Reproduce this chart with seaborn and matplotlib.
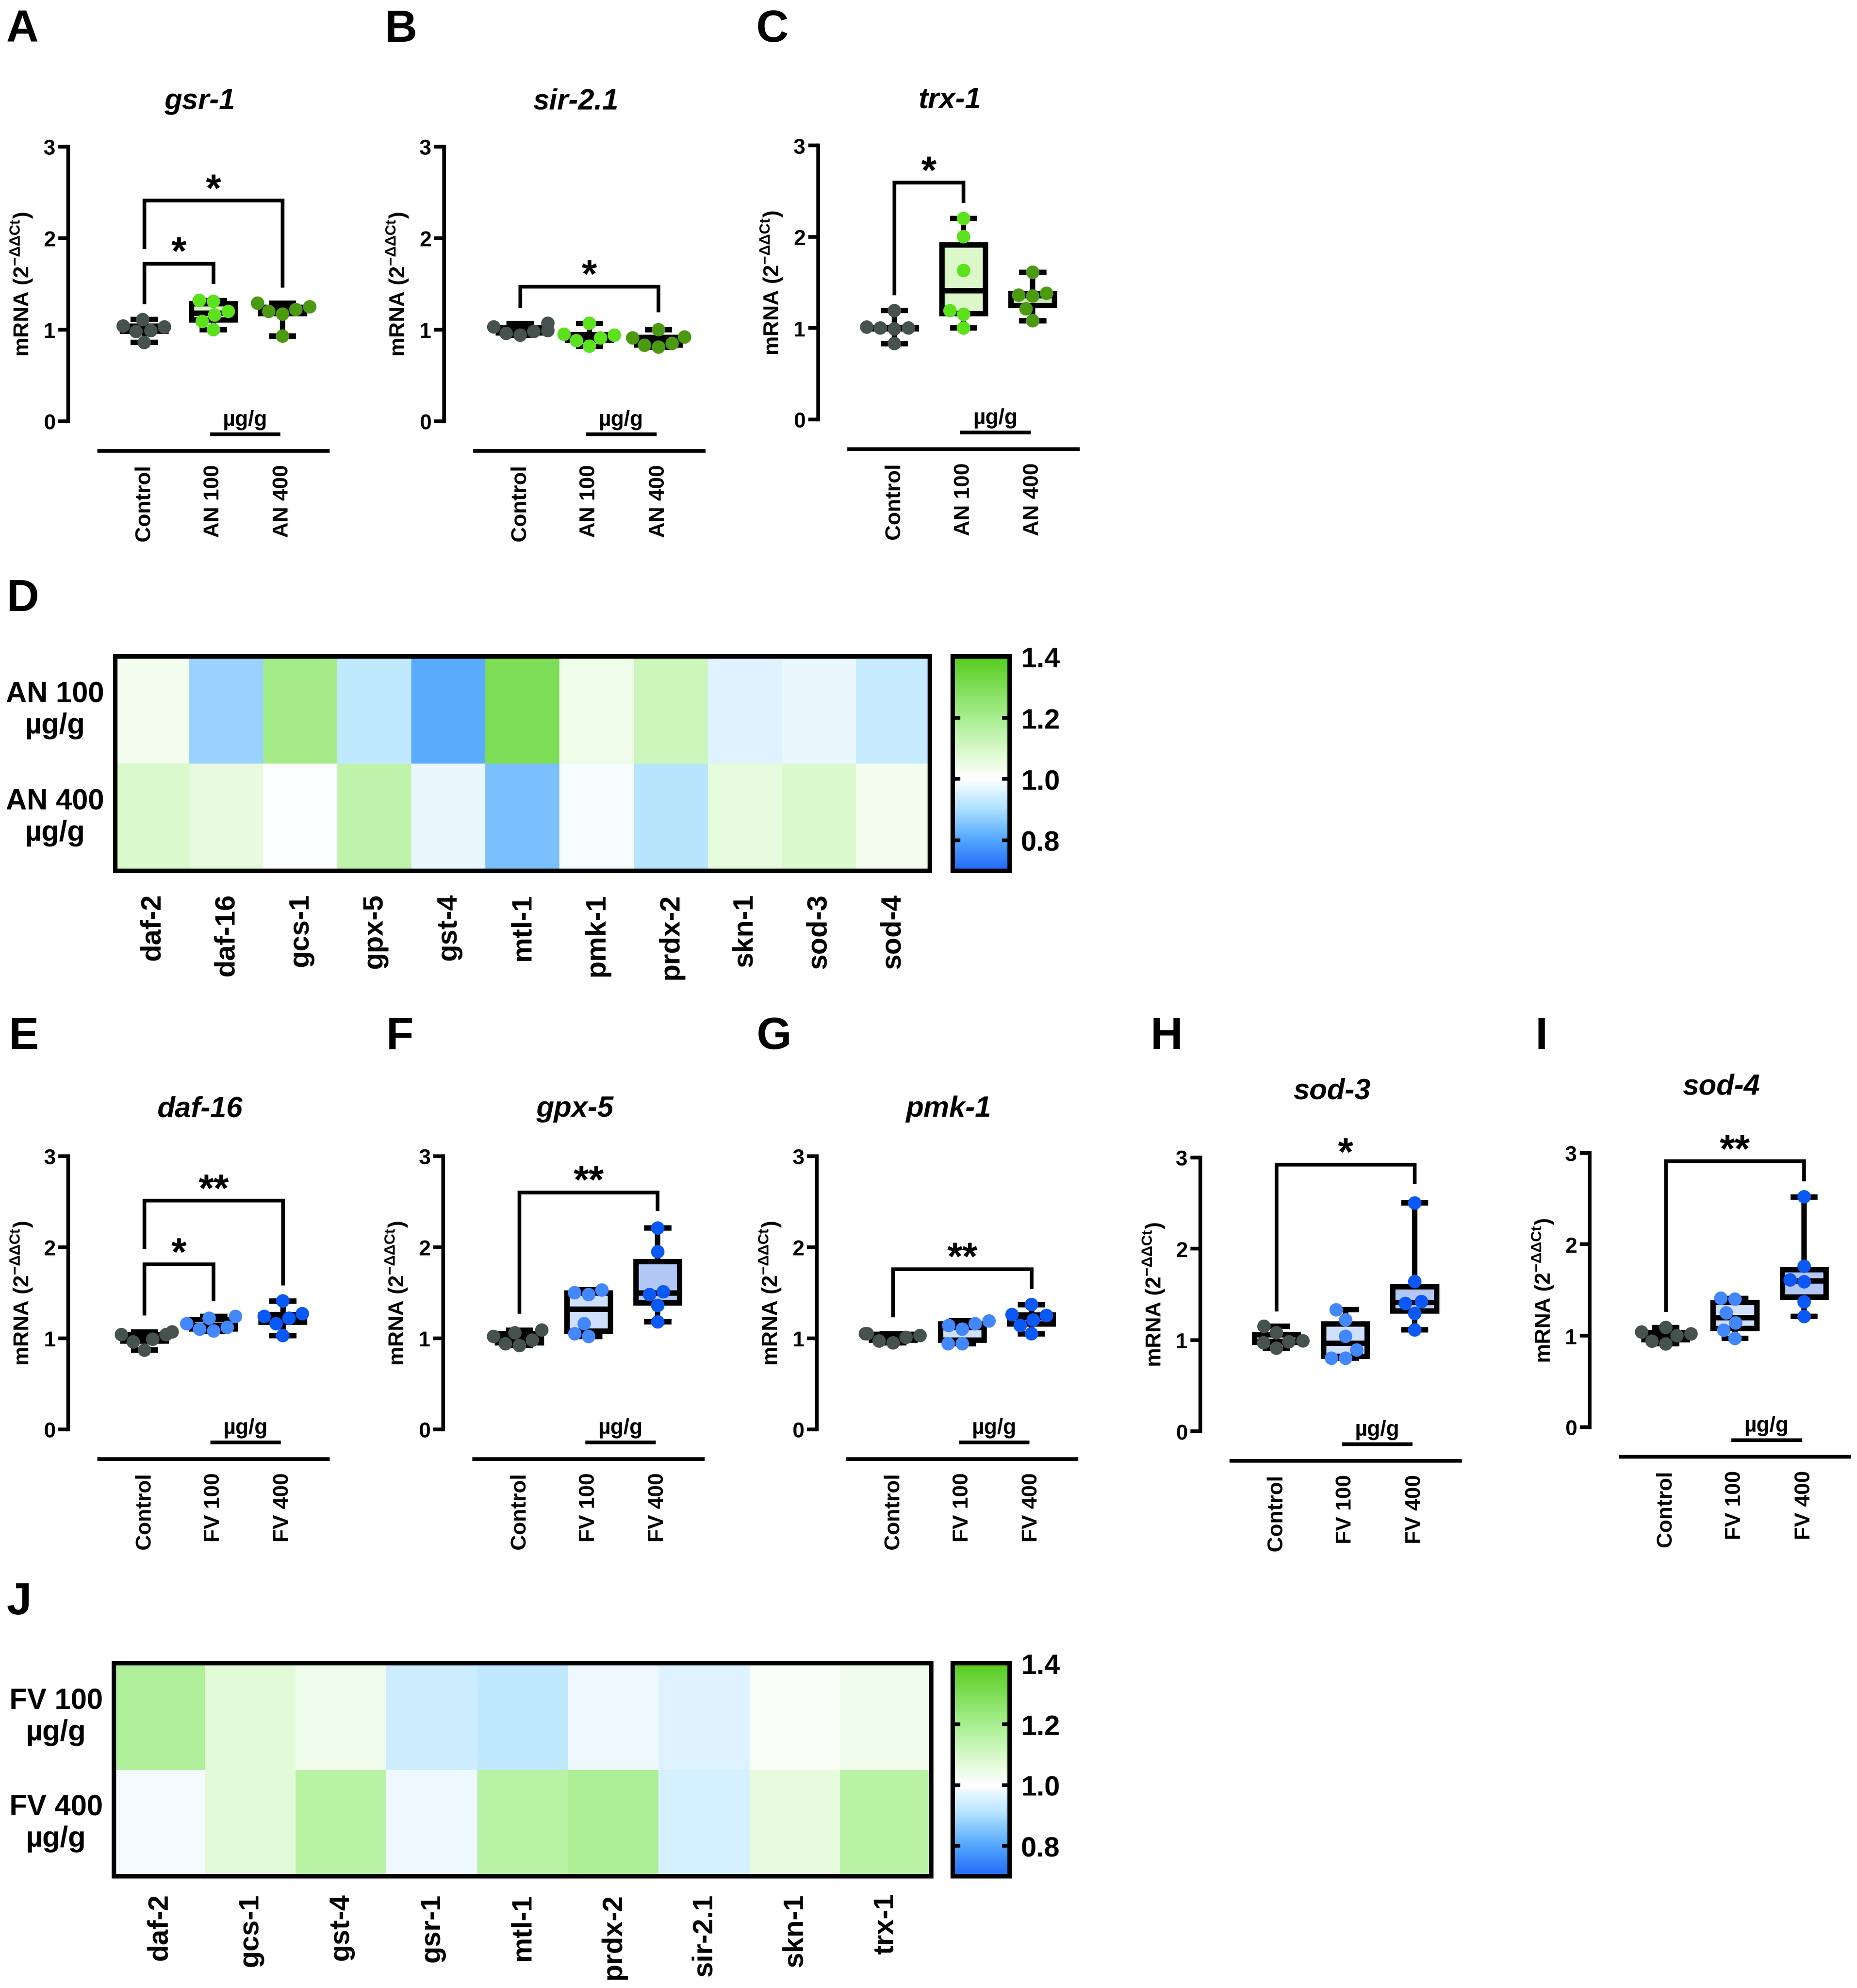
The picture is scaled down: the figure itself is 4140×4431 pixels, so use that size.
import numpy as np
import pandas as pd
import matplotlib
matplotlib.use("Agg")
import matplotlib.pyplot as plt
import matplotlib.transforms as mtransforms
from matplotlib.colors import LinearSegmentedColormap
import seaborn as sns

# ---------------- data ----------------
groups_an = ["Control", "AN 100", "AN 400"]
groups_fv = ["Control", "FV 100", "FV 400"]

# gsr-1 (A)
gsr1_ctrl = [1.04, 0.99, 0.86, 1.03, 1.11, 0.98]
gsr1_an100 = [1.00, 1.31, 1.16, 1.32, 1.20, 1.09]
gsr1_an400 = [1.25, 1.20, 1.17, 1.22, 1.29, 0.93]
# sir-2.1 (B)
sir21_ctrl = [0.96, 1.03, 0.98, 0.99, 1.07, 0.94]
sir21_an100 = [1.07, 0.94, 0.95, 0.88, 0.91, 0.82]
sir21_an400 = [1.00, 0.91, 0.92, 0.83, 0.85, 0.81]
# trx-1 (C)
trx1_ctrl = [1.01, 1.00, 1.19, 0.83, 1.00, 0.99]
trx1_an100 = [2.20, 2.00, 1.63, 1.19, 1.15, 1.00]
trx1_an400 = [1.61, 1.36, 1.38, 1.35, 1.21, 1.08]
# daf-16 (E)
daf16_ctrl = [0.99, 1.04, 0.87, 0.96, 1.07, 1.04]
daf16_fv100 = [1.22, 1.08, 1.16, 1.24, 1.10, 1.12]
daf16_fv400 = [1.41, 1.22, 1.24, 1.27, 1.16, 1.03]
# gpx-5 (F)
gpx5_ctrl = [1.02, 0.92, 0.98, 1.06, 0.94, 1.09]
gpx5_fv100 = [1.50, 1.53, 1.48, 1.16, 1.02, 1.05]
gpx5_fv400 = [2.21, 1.95, 1.48, 1.51, 1.36, 1.18]
# pmk-1 (G)
pmk1_ctrl = [0.97, 1.05, 1.01, 1.05, 0.95, 1.03]
pmk1_fv100 = [1.14, 1.10, 1.16, 1.19, 0.94, 0.94]
pmk1_fv400 = [1.37, 1.26, 1.20, 1.25, 1.14, 1.05]
# sod-3 (H)
sod3_ctrl = [0.91, 0.99, 1.08, 1.15, 0.97, 0.98]
sod3_fv100 = [0.80, 0.89, 1.04, 1.22, 1.33, 0.80]
sod3_fv400 = [2.50, 1.64, 1.40, 1.42, 1.29, 1.11]
# sod-4 (I)
sod4_ctrl = [1.02, 0.91, 1.04, 1.09, 0.94, 1.00]
sod4_fv100 = [1.41, 1.40, 1.25, 1.14, 1.06, 0.97]
sod4_fv400 = [2.52, 1.76, 1.59, 1.61, 1.37, 1.21]

# significance brackets: (group i, group j, bracket top, left leg end, right leg end, label)
gsr1_sig = [(0, 1, 1.72, 1.30, 1.52, "*"), (0, 2, 2.41, 1.90, 1.48, "*")]
sir21_sig = [(0, 2, 1.47, 1.26, 1.21, "*")]
trx1_sig = [(0, 1, 2.59, 1.38, 2.39, "*")]
daf16_sig = [(0, 1, 1.81, 1.27, 1.43, "*"), (0, 2, 2.51, 2.00, 1.60, "**")]
gpx5_sig = [(0, 2, 2.60, 1.29, 2.42, "**")]
pmk1_sig = [(0, 2, 1.76, 1.25, 1.56, "**")]
sod3_sig = [(0, 2, 2.92, 1.33, 2.73, "*")]
sod4_sig = [(0, 2, 2.91, 1.28, 2.71, "**")]

# heatmap D (AN) and J (FV)
genes_an = ["daf-2", "daf-16", "gcs-1", "gpx-5", "gst-4", "mtl-1",
            "pmk-1", "prdx-2", "skn-1", "sod-3", "sod-4"]
an100_heat = [1.03, 0.88, 1.21, 0.925, 0.81, 1.30, 1.04, 1.12, 0.96, 0.975, 0.935]
an400_heat = [1.09, 1.06, 1.00, 1.15, 0.975, 0.845, 0.99, 0.915, 1.06, 1.09, 1.03]
rows_an = ["AN 100\nµg/g", "AN 400\nµg/g"]

genes_fv = ["daf-2", "gcs-1", "gst-4", "gsr-1", "mtl-1", "prdx-2",
            "sir-2.1", "skn-1", "trx-1"]
fv100_heat = [1.18, 1.07, 1.035, 0.94, 0.925, 0.98, 0.96, 1.015, 1.035]
fv400_heat = [0.985, 1.07, 1.16, 0.98, 1.16, 1.19, 0.95, 1.06, 1.16]
rows_fv = ["FV 100\nµg/g", "FV 400\nµg/g"]

# ---------------- style ----------------
plt.rcParams["font.family"] = ["Liberation Sans", "DejaVu Sans"]
plt.rcParams["font.weight"] = "bold"
plt.rcParams["axes.labelweight"] = "bold"
plt.rcParams["mathtext.fontset"] = "custom"
plt.rcParams["mathtext.rm"] = "Liberation Sans"
plt.rcParams["mathtext.default"] = "rm"

an_fill = ["#d4dadb", "#dcf8cb", "#c9e5b6"]
an_pts = ["#46524e", "#5ce11d", "#4b9a12"]
fv_fill = ["#d4dadb", "#d0e0fc", "#b3c7f7"]
fv_pts = ["#46524e", "#4287fb", "#0a58f5"]

heat_cmap = LinearSegmentedColormap.from_list(
    "bwg", [(0.0, "#2268f8"), (0.143, "#52a6fc"), (0.30, "#b4e4fe"),
            (0.4286, "#ffffff"), (0.57, "#d6f8c8"), (0.714, "#a8ee90"),
            (1.0, "#56cc1e")])

W, H = 1466.0, 1568.0
fig = plt.figure(figsize=(13.8, 14.7733), dpi=300)


def rect(left, top, right, bottom):
    return [left / W, 1 - bottom / H, (right - left) / W, (bottom - top) / H]


def box_panel(spine_x, top, bottom, groups, values, fills, pts, title, sigs, title_pad):
    ax = fig.add_axes(rect(spine_x, top, spine_x + 207.5, bottom))
    df = pd.DataFrame({"group": np.repeat(groups, [len(v) for v in values]),
                       "value": np.concatenate(values)})
    sns.boxplot(data=df, x="group", y="value", hue="group", order=groups, hue_order=groups,
                palette=dict(zip(groups, fills)), saturation=1, whis=(0, 100), width=0.63,
                linewidth=2.9, linecolor="black", fliersize=0, legend=False, ax=ax)
    sns.swarmplot(data=df, x="group", y="value", hue="group", order=groups, hue_order=groups,
                  palette=dict(zip(groups, pts)), size=7.2, linewidth=0, legend=False, ax=ax)
    ax.set_xlim(-1.1, 2.7)
    ax.set_ylim(0, 3)
    ax.set_yticks([0, 1, 2, 3])
    for s in ["top", "right", "bottom"]:
        ax.spines[s].set_visible(False)
    ax.spines["left"].set_linewidth(2.0)
    ax.tick_params(axis="y", length=5.3, width=2.0, pad=1.5, labelsize=11.5)
    ax.tick_params(axis="x", length=0, pad=23, labelsize=11.5, labelrotation=90)
    ax.set_xlabel("")
    ax.set_ylabel("mRNA (2$^{-ΔΔCt}$)", fontsize=11.5, fontweight="bold")
    ax.yaxis.set_label_coords(-0.13, 0.5)
    ax.set_title(title, fontsize=15.5, fontweight="bold", fontstyle="italic", pad=title_pad)

    trans = mtransforms.blended_transform_factory(ax.transData, ax.transAxes)
    n = len(groups)
    ax.plot([-0.68, n - 0.32], [-0.1085, -0.1085], transform=trans, color="black",
            lw=2.0, clip_on=False, solid_capstyle="butt")
    ax.plot([0.95, n - 1.03], [-0.048, -0.048], transform=trans, color="black",
            lw=2.0, clip_on=False, solid_capstyle="butt")
    ax.text((n - 1 + 0.92) / 2, -0.015, "µg/g", transform=trans, ha="center",
            va="baseline", fontsize=11.5, fontweight="bold")

    for i, j, ytop, yl, yr, lab in sigs:
        ax.plot([i, i, j, j], [yl, ytop, ytop, yr], color="black", lw=2.0,
                clip_on=False, solid_joinstyle="miter")
        ax.text((i + j) / 2, ytop, lab, ha="center", va="baseline",
                fontsize=21, fontweight="bold", clip_on=False)
    return ax


def heat_panel(hm_rect, cb_rect, genes, r1, r2, row_labels, label_pad):
    ax = fig.add_axes(rect(*hm_rect))
    cax = fig.add_axes(rect(*cb_rect))
    df = pd.DataFrame([r1, r2], index=row_labels, columns=genes)
    sns.heatmap(df, ax=ax, cbar_ax=cax, cmap=heat_cmap, vmin=0.7, vmax=1.4,
                cbar_kws={"ticks": [0.8, 1.0, 1.2, 1.4]})
    for s in ax.spines.values():
        s.set_visible(True)
        s.set_linewidth(2.4)
    ax.tick_params(axis="both", length=0)
    ax.tick_params(axis="x", pad=label_pad, labelsize=15, labelrotation=90)
    ax.tick_params(axis="y", pad=6, labelsize=15.5, labelrotation=0)
    for lbl in ax.get_yticklabels():
        lbl.set_multialignment("center")
        lbl.set_fontweight("bold")
    for lbl in ax.get_xticklabels():
        lbl.set_fontweight("bold")
    cbar = ax.collections[0].colorbar
    cbar.outline.set_linewidth(2.4)
    cax.tick_params(direction="in", left=True, right=True, length=4, width=2,
                    labelsize=15, pad=6)
    cax.set_yticklabels(["0.8", "1.0", "1.2", "1.4"], fontweight="bold")
    return ax


# row 1: A, B, C
box_panel(53.8, 116, 332.5, groups_an, [gsr1_ctrl, gsr1_an100, gsr1_an400],
          an_fill, an_pts, "gsr-1", gsr1_sig, 20.3)
box_panel(350.6, 116, 332.5, groups_an, [sir21_ctrl, sir21_an100, sir21_an400],
          an_fill, an_pts, "sir-2.1", sir21_sig, 20.3)
box_panel(646.0, 115, 331.0, groups_an, [trx1_ctrl, trx1_an100, trx1_an400],
          an_fill, an_pts, "trx-1", trx1_sig, 20.3)

# D heatmap
heat_panel((91, 518, 734, 687), (752, 518, 797, 687), genes_an,
           an100_heat, an400_heat, rows_an, 12)

# row 2: E-I
box_panel(54.0, 912, 1127.5, groups_fv, [daf16_ctrl, daf16_fv100, daf16_fv400],
          fv_fill, fv_pts, "daf-16", daf16_sig, 21.2)
box_panel(350.0, 912, 1127.5, groups_fv, [gpx5_ctrl, gpx5_fv100, gpx5_fv400],
          fv_fill, fv_pts, "gpx-5", gpx5_sig, 21.2)
box_panel(645.0, 912, 1127.5, groups_fv, [pmk1_ctrl, pmk1_fv100, pmk1_fv400],
          fv_fill, fv_pts, "pmk-1", pmk1_sig, 21.2)
box_panel(947.6, 913, 1129.0, groups_fv, [sod3_ctrl, sod3_fv100, sod3_fv400],
          fv_fill, fv_pts, "sod-3", sod3_sig, 31.5)
box_panel(1255.0, 909.5, 1125.7, groups_fv, [sod4_ctrl, sod4_fv100, sod4_fv400],
          fv_fill, fv_pts, "sod-4", sod4_sig, 31.5)

# J heatmap
heat_panel((90, 1312, 735, 1480), (752, 1312, 797, 1480), genes_fv,
           fv100_heat, fv400_heat, rows_fv, 9)

# panel letters
letters = [("A", 4.7, 33), ("B", 303.6, 33), ("C", 597, 33), ("D", 5.2, 482),
           ("E", 6.7, 827), ("F", 304.7, 827), ("G", 597.4, 827), ("H", 908, 827),
           ("I", 1211.8, 827), ("J", 5, 1273)]
for lab, x, y in letters:
    fig.text(x / W, 1 - y / H, lab, fontsize=24, fontweight="bold",
             ha="left", va="baseline")

fig.savefig("out.png", dpi=300, facecolor="white")
